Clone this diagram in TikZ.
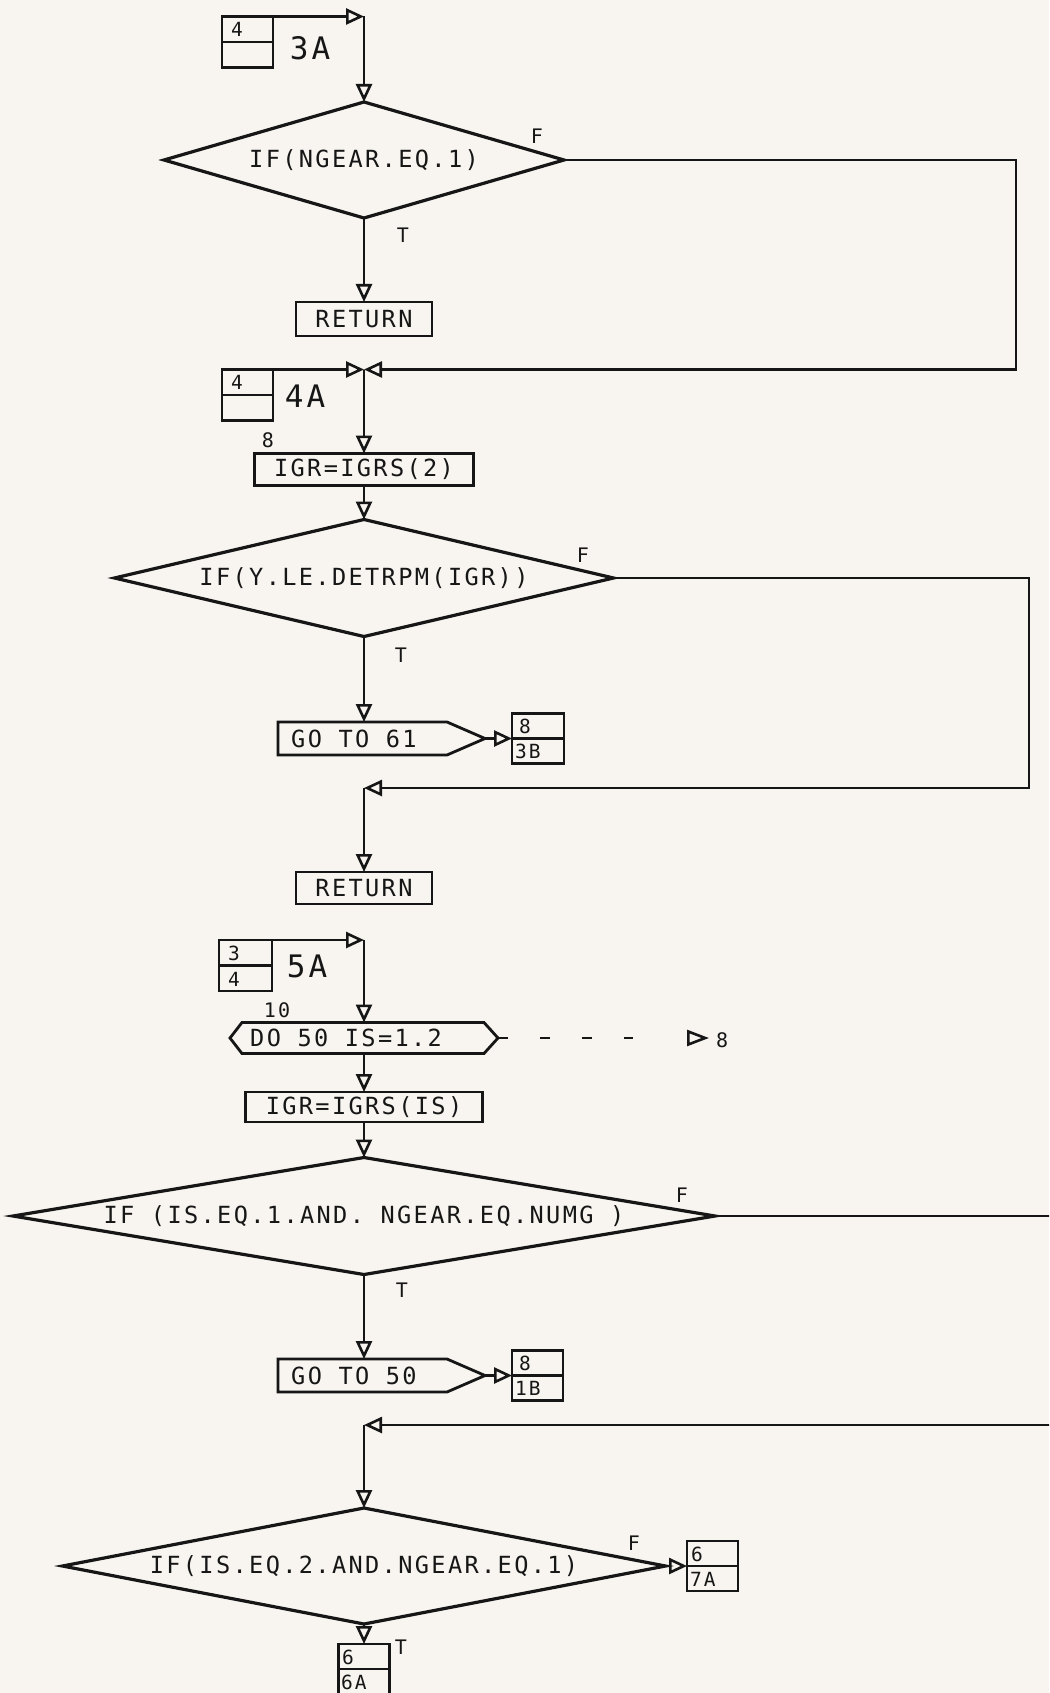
\documentclass[tikz,border=0pt]{standalone}
\usepackage{fontspec}
\newfontfamily\plotfont[LetterSpace=10]{DejaVu Sans Mono}
\usetikzlibrary{arrows.meta,shapes.geometric}
\definecolor{paper}{RGB}{248,245,240}
\definecolor{ink}{RGB}{22,22,22}
\begin{document}
\begin{tikzpicture}[x=1pt,y=-1pt,
  ln/.style={draw=ink, line width=2.6pt},
  ar/.style={ln, -{Triangle[open,length=18pt,width=16pt]}},
  txt/.style={font=\plotfont\fontsize{23.6}{25}\selectfont, text=ink, inner sep=0pt},
  lbl/.style={font=\plotfont\fontsize{20}{22}\selectfont, text=ink, inner sep=0pt},
  sml/.style={font=\plotfont\fontsize{19.5}{21}\selectfont, text=ink, inner sep=0pt},
  big/.style={font=\plotfont\fontsize{31}{33}\selectfont, text=ink, inner sep=0pt},
  dia/.style={diamond, draw=ink, line width=3.2pt, inner sep=0pt, outer sep=0pt},
  procbox/.style={rectangle, draw=ink, line width=2.8pt, inner sep=0pt, outer sep=0pt, txt},
  frame/.style={rectangle, inner sep=0pt, outer sep=0pt},
  shp/.style={draw=ink, line width=2.8pt, line join=miter},
  conbox/.style={rectangle, draw=ink, line width=2.6pt, inner sep=0pt, outer sep=0pt, minimum width=51pt, minimum height=51pt},
]
\fill[paper] (0,0) rectangle (1049,1693);
\useasboundingbox (0,0) rectangle (1049,1693);
\clip (0,0) rectangle (1049,1693);

% ---------- section 1 ----------
\node[conbox] (c3a) at (247.5,42) {};
\draw[ln] (c3a.west) -- (c3a.east);
\node[sml, anchor=west] (c3at) at (231,29) {4};
\node[big] (c3al) at (310,48) {3A};
\coordinate (j1) at (364,16.5);
\draw[ar] (c3a.north east) -- (j1);
\node[dia, minimum width=400pt, minimum height=116pt] (d1) at (364,160) {};
\node[txt] (d1t) at (d1.center) {IF(NGEAR.EQ.1)};
\draw[ar] (j1) -- (d1.north);
\node[lbl] (f1) at (537,136) {F};
\node[lbl] (t1) at (403,235) {T};
\node[procbox, minimum width=136pt, minimum height=34pt] (r1) at (364,319) {RETURN};
\draw[ar] (d1.south) -- (r1.north);

\node[conbox] (c4a) at (247.5,395) {};
\draw[ln] (c4a.west) -- (c4a.east);
\node[sml, anchor=west] (c4at) at (231,382) {4};
\node[big] (c4al) at (305,396) {4A};
\coordinate (j2) at (364,369.5);
\coordinate (e1a) at (1016,160);
\coordinate (e1b) at (1016,369.5);
\draw[ar] (d1.east) -- (e1a) -- (e1b) -- (j2);
\draw[ar] (c4a.north east) -- (j2);

\node[lbl] (s8) at (268,440) {8};
\node[procbox, minimum width=219pt, minimum height=32pt] (igr1) at (364,469.5) {IGR=IGRS(2)};
\draw[ar] (j2) -- (igr1.north);

% ---------- section 2 ----------
\node[dia, minimum width=499pt, minimum height=117pt] (d2) at (364,578) {};
\node[txt] (d2t) at (d2.center) {IF(Y.LE.DETRPM(IGR))};
\draw[ar] (igr1.south) -- (d2.north);
\node[lbl] (f2) at (583,555) {F};
\node[lbl] (t2) at (401,655) {T};

\node[frame, minimum width=207pt, minimum height=33pt] (g61) at (381.5,738.5) {};
\draw[shp] (g61.north west) -- ([xshift=-38pt]g61.north east) -- (g61.east) -- ([xshift=-38pt]g61.south east) -- (g61.south west) -- cycle;
\node[txt, anchor=west] (g61t) at (291,738.5) {GO TO 61};
\draw[ar] (d2.south) -- (d2.south |- g61.north);

\node[conbox, minimum width=52pt, minimum height=50pt] (p3b) at (538,738.5) {};
\draw[ln] (p3b.west) -- (p3b.east);
\node[sml, anchor=west] (p3bt) at (519,726) {8};
\node[sml, anchor=west] (p3bb) at (515,751) {3B};
\draw[ar] (g61.east) -- (p3b.west);

\coordinate (j3) at (364,788);
\coordinate (e2a) at (1029,578);
\coordinate (e2b) at (1029,788);
\draw[ar] (d2.east) -- (e2a) -- (e2b) -- (j3);
\node[procbox, minimum width=136pt, minimum height=32pt] (r2) at (364,888) {RETURN};
\draw[ar] (j3) -- (r2.north);

% ---------- section 3 ----------
\node[conbox, minimum width=53pt] (c5a) at (245.5,965.5) {};
\draw[ln] (c5a.west) -- (c5a.east);
\node[sml, anchor=west] (c5at) at (228,953) {3};
\node[sml, anchor=west] (c5ab) at (228,979) {4};
\node[big] (c5al) at (307,966) {5A};
\coordinate (j4) at (364,940);
\draw[ar] (c5a.north east) -- (j4);

\node[frame, minimum width=268pt, minimum height=31pt] (do) at (364,1038) {};
\draw[shp] (do.west) -- ([xshift=12pt]do.north west) -- ([xshift=-14pt]do.north east) -- (do.east) -- ([xshift=-14pt]do.south east) -- ([xshift=12pt]do.south west) -- cycle;
\node[txt, anchor=west] (dot) at (250,1038) {DO 50 IS=1.2};
\node[lbl] (s10) at (277,1010) {10};
\draw[ar] (j4) -- (do.north);

\coordinate (dd) at (633,1038);
\draw[ln, dash pattern=on 10pt off 32pt] (do.east) -- (dd);
\coordinate (ah) at (687,1038);
\coordinate (c8) at (709,1038);
\draw[ln, -{Triangle[open,length=22pt,width=16pt]}] (ah) -- (c8);
\node[lbl, anchor=west] (l8) at (716,1040) {8};

\node[procbox, minimum width=237pt, minimum height=30pt] (igr2) at (364,1107) {IGR=IGRS(IS)};
\draw[ar] (do.south) -- (igr2.north);

\node[dia, minimum width=702pt, minimum height=117pt] (d3) at (364,1216) {};
\node[txt] (d3t) at (d3.center) {IF (IS.EQ.1.AND. NGEAR.EQ.NUMG )};
\draw[ar] (igr2.south) -- (d3.north);
\node[lbl] (f3) at (682,1195) {F};
\node[lbl] (t3) at (402,1290) {T};

\node[frame, minimum width=207pt, minimum height=33pt] (g50) at (381.5,1375.5) {};
\draw[shp] (g50.north west) -- ([xshift=-38pt]g50.north east) -- (g50.east) -- ([xshift=-38pt]g50.south east) -- (g50.south west) -- cycle;
\node[txt, anchor=west] (g50t) at (291,1375.5) {GO TO 50};
\draw[ar] (d3.south) -- (d3.south |- g50.north);

\node[conbox, minimum width=51pt, minimum height=50pt] (p1b) at (537.5,1375.5) {};
\draw[ln] (p1b.west) -- (p1b.east);
\node[sml, anchor=west] (p1bt) at (519,1363) {8};
\node[sml, anchor=west] (p1bb) at (515,1388) {1B};
\draw[ar] (g50.east) -- (p1b.west);

\coordinate (j5) at (364,1425);
\coordinate (e3a) at (1070,1216);
\coordinate (e3b) at (1070,1425);
\draw[ar] (d3.east) -- (e3a) -- (e3b) -- (j5);

\node[dia, minimum width=603pt, minimum height=116pt] (d4) at (364,1566) {};
\node[txt] (d4t) at (d4.center) {IF(IS.EQ.2.AND.NGEAR.EQ.1)};
\draw[ar] (j5) -- (d4.north);
\node[lbl] (f4) at (634,1543) {F};

\node[conbox, minimum width=51pt, minimum height=50pt] (p7a) at (712.5,1566) {};
\draw[ln] (p7a.west) -- (p7a.east);
\node[sml, anchor=west] (p7at) at (691,1554) {6};
\node[sml, anchor=west] (p7ab) at (690,1579) {7A};
\draw[ar] (d4.east) -- (p7a.west);

\node[conbox, minimum width=51pt, minimum height=50pt] (p6a) at (364,1669) {};
\draw[ln] (p6a.west) -- (p6a.east);
\node[sml, anchor=west] (p6at) at (342,1657) {6};
\node[sml, anchor=west] (p6ab) at (341,1682) {6A};
\draw[ar] (d4.south) -- (p6a.north);
\node[lbl] (t4) at (401,1647) {T};
\end{tikzpicture}
\end{document}
